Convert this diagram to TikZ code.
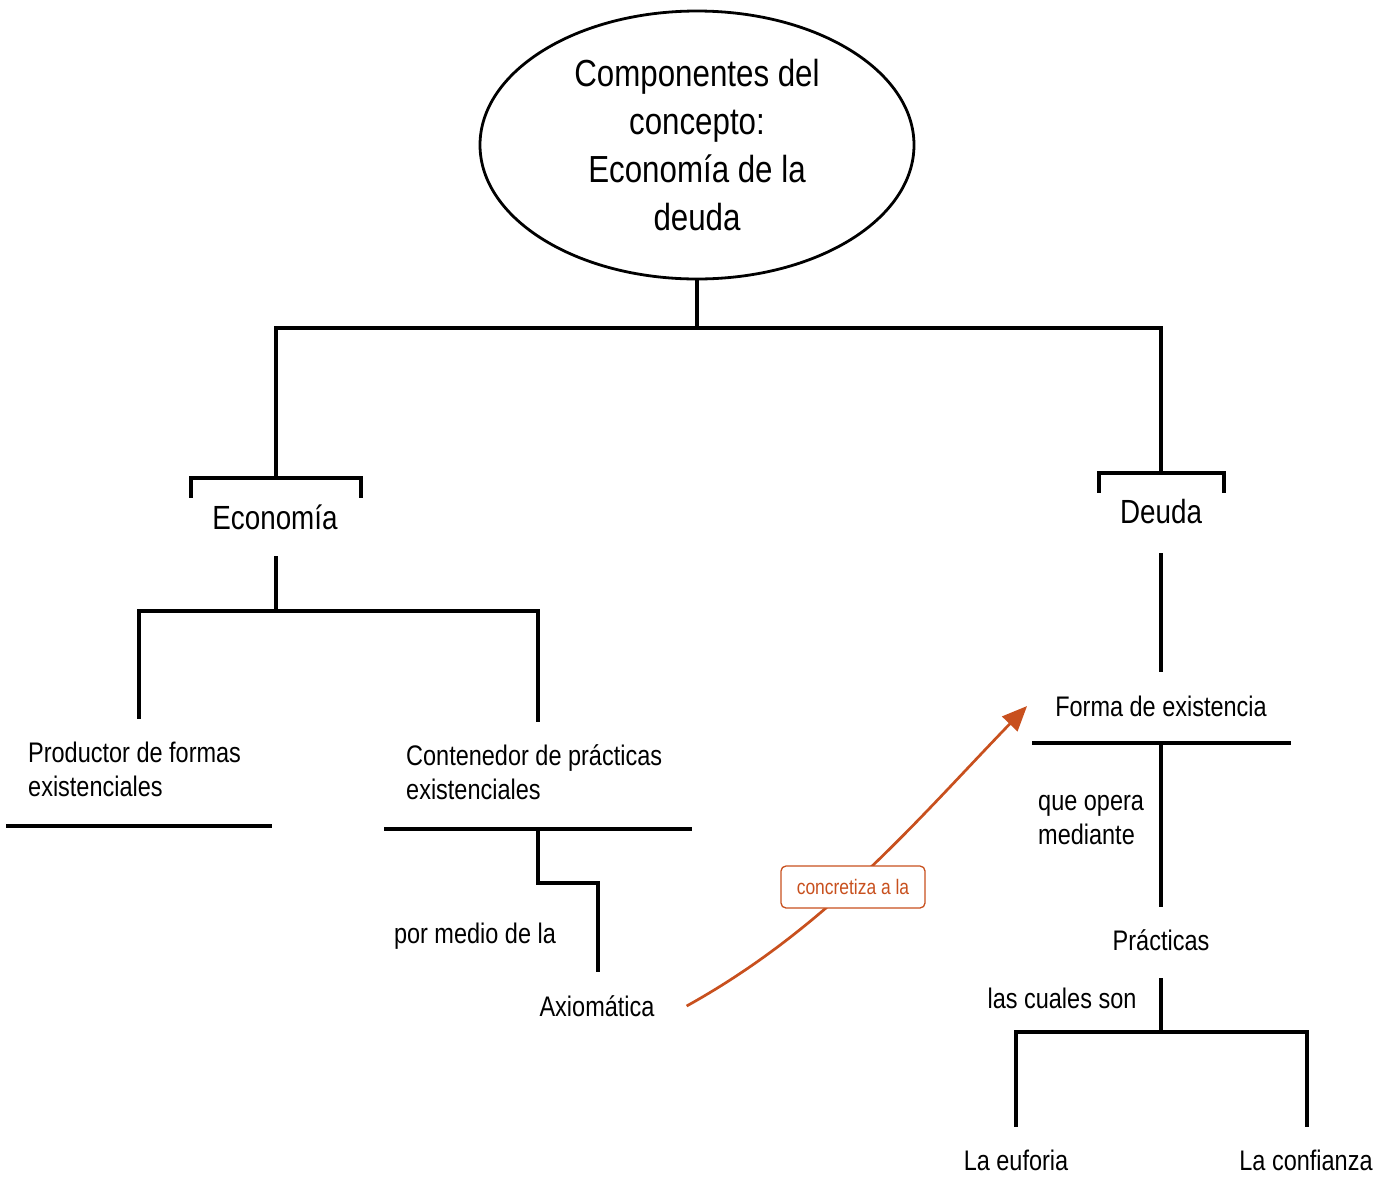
\documentclass[tikz,border=0pt]{standalone}
\usepackage{fontspec}
\setmainfont{Liberation Sans}[FakeStretch=0.83]
\usepackage{tikz}
\usetikzlibrary{arrows.meta,shapes.geometric}
\definecolor{naranja}{RGB}{200,80,30}
\tikzset{
	raya/.style={line width=3.2pt, line cap=rect},
	raizbox/.style={ellipse, draw, line width=2.8pt, minimum width=434pt, minimum height=268pt, inner sep=0pt, align=center, font=\fontsize{37.7}{48}\selectfont},
	rama/.style={inner sep=0pt, font=\fontsize{33.5}{40}\selectfont},
	hoja/.style={inner sep=0pt, align=left, font=\fontsize{28.3}{34}\selectfont},
	enlace/.style={draw=naranja, line width=2.7pt, -{Triangle[length=25pt,width=21pt]}},
	etiqueta/.style={draw=naranja, line width=1.3pt, rounded corners=5pt, fill=white, text=naranja, minimum width=144pt, minimum height=42pt, inner sep=0pt, font=\fontsize{21}{25}\selectfont}
}

\begin{document}
\begin{tikzpicture}[x=1pt,y=-1pt]
			%%%%% START %%%%%
			\useasboundingbox (0,0) rectangle (1389,1176);
			
			\node[raizbox] (raiz) at (697,145) {Componentes del\\concepto:\\Economía de la\\deuda};
			
			\node[rama] (eco) at (275,517.5) {Economía};
			\node[rama] (deuda) at (1161,512) {Deuda};
			
			\node[hoja, anchor=north west] (prod) at (28,741.5) {Productor de formas\\existenciales};
			\node[hoja, anchor=north west] (cont) at (406,744) {Contenedor de prácticas\\existenciales};
			\node[hoja] (medio) at (475,936.5) {por medio de la};
			\node[hoja] (axio) at (597,1006) {Axiomática};
			
			\node[hoja] (forma) at (1161,706) {Forma de existencia};
			\node[hoja, anchor=north west] (opera) at (1038,795) {que opera\\mediante};
			\node[hoja] (prac) at (1161,940.5) {Prácticas};
			\node[hoja] (cuales) at (1062,998) {las cuales son};
			\node[hoja] (euforia) at (1016,1160) {La euforia};
			\node[hoja] (confianza) at (1306,1160) {La confianza};
			
			% arbol principal
			\draw[raya] (raiz.south) -- (697,328);
			\draw[raya] (276,478) -- (276,328) -- (1161,328) -- (1161,473);
			\draw[raya] (191,496) -- (191,478) -- (361,478) -- (361,496);
			\draw[raya] (1099,491) -- (1099,473) -- (1224,473) -- (1224,491);
			
			% rama economia
			\draw[raya] (276,558) -- (276,611);
			\draw[raya] (139,717) -- (139,611) -- (538,611) -- (538,720);
			\draw[raya] (8,826) -- (270,826);
			\draw[raya] (386,829) -- (690,829);
			\draw[raya] (538,829) -- (538,883) -- (598,883) -- (598,970);
			
			% rama deuda
			\draw[raya] (1161,555) -- (1161,670);
			\draw[raya] (1034,743) -- (1289,743);
			\draw[raya] (1161,743) -- (1161,905);
			\draw[raya] (1161,980) -- (1161,1032);
			\draw[raya] (1016,1125) -- (1016,1032) -- (1307,1032) -- (1307,1125);
			
			% enlace
			\draw[enlace] ([xshift=32pt]axio.east) .. controls +(-29:160) and +(134:160) .. ([xshift=-28pt]forma.west);
			\node[etiqueta] (concr) at (853,887) {concretiza a la};
			
			%%%%% END %%%%%
		\end{tikzpicture}
\end{document}
